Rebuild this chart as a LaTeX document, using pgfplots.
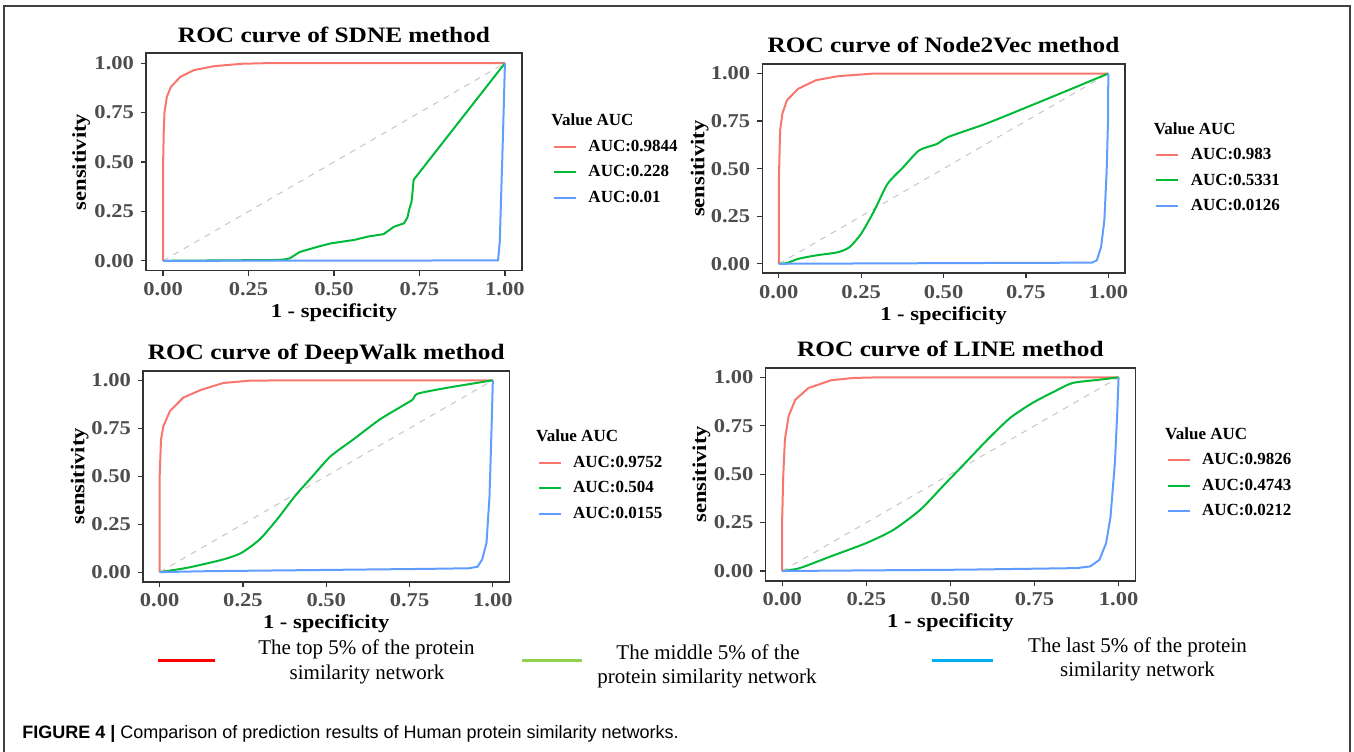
\documentclass[border=0pt]{standalone}
\usepackage{fontspec}
\setmainfont{Liberation Serif}
\newfontfamily\pf[FakeStretch=1.15]{Liberation Serif}
\newfontfamily\capfont{Liberation Sans}
\usepackage{pgfplots}
\pgfplotsset{compat=1.18}

\definecolor{gRed}{HTML}{F8766D}
\definecolor{gGreen}{HTML}{00BA38}
\definecolor{gBlue}{HTML}{619CFF}
\definecolor{tickgray}{HTML}{4D4D4D}
\definecolor{boxgray}{HTML}{333333}
\definecolor{legRed}{HTML}{FF0000}
\definecolor{legGreen}{HTML}{92D050}
\definecolor{legBlue}{HTML}{00B0F0}

\newcommand\lt[1]{\hspace*{5.75pt}#1}
\newcommand\lhead{\hspace*{-12.75pt}Value AUC}

\pgfplotsset{
  rocpanel/.style={
    scale only axis,
    xmin=-0.05, xmax=1.05, ymin=-0.05, ymax=1.05,
    xtick={0,0.25,0.5,0.75,1}, ytick={0,0.25,0.5,0.75,1},
    xticklabels={0.00,0.25,0.50,0.75,1.00},
    yticklabels={0.00,0.25,0.50,0.75,1.00},
    tick pos=left, tick align=outside, major tick length=2.5pt,
    tick style={boxgray, line width=0.6pt},
    axis line style={boxgray, line width=0.8pt},
    ticklabel style={font=\pf\bfseries\fontsize{9.8}{10}\selectfont, text=tickgray},
    every axis title shift=0pt,
    title style={font=\pf\bfseries\fontsize{11}{12}\selectfont, at={(0.5,1)}, anchor=base, yshift=5.5pt},
    xlabel={1 - specificity}, ylabel={sensitivity},
    label style={font=\pf\bfseries\fontsize{9.8}{11}\selectfont},
    xlabel style={at={(axis description cs:0.5,0)}, anchor=base, yshift=-23.5pt},
    ylabel style={at={(axis description cs:-0.16,0.5)}, anchor=base},
    legend style={anchor=north west, draw=none, fill=none, inner sep=0pt, outer sep=0pt,
      font=\bfseries\fontsize{8.5}{9}\selectfont, row sep=4.95pt,
      nodes={inner sep=0pt, text height=6.2pt, text depth=1.6pt}},
    legend cell align=left,
    legend image code/.code={\draw[#1] (0pt,0pt) -- (11pt,0pt);},
    every axis plot/.append style={line width=1pt, no marks, line join=round},
  },
  diag/.style={gray!45, line width=0.5pt, dash pattern=on 3pt off 3pt, forget plot},
}

\begin{document}
\begin{tikzpicture}[x=0.5pt, y=0.5pt]
\useasboundingbox (0,0) rectangle (1354,751);
\draw[black!75, line width=0.75pt] (4,-2) -- (4,745) -- (1350,745) -- (1350,-2);

\coordinate (A1) at (146,697.7);
\coordinate (A2) at (762.3,687);
\coordinate (A3) at (143,380.3);
\coordinate (A4) at (765.4,383.3);

% SDNE
\begin{axis}[rocpanel, at={(A1)}, anchor=north west, width=188pt, height=108.7pt,
  title={ROC curve of SDNE method}, legend style={at={(1.0824,0.7227)}}]
\addplot[diag] coordinates {(0,0) (1,1)};
\addlegendimage{empty legend}\addlegendentry{\lhead}
\addplot[gRed] coordinates {(0,0) (0,0.49) (0.002,0.66) (0.004,0.75) (0.011,0.83) (0.023,0.88) (0.05,0.93) (0.09,0.965) (0.15,0.985) (0.23,0.997) (0.3,1) (1,1)};
\addlegendentry{\lt{AUC:0.9844}}
\addplot[gGreen] coordinates {(0,0) (0.32,0.004) (0.35,0.006) (0.37,0.012) (0.40,0.045) (0.45,0.07) (0.49,0.088) (0.56,0.106) (0.60,0.123) (0.645,0.135) (0.675,0.172) (0.705,0.19) (0.715,0.22) (0.72,0.26) (0.727,0.30) (0.733,0.41) (1,1)};
\addlegendentry{\lt{AUC:0.228}}
\addplot[gBlue] coordinates {(0,0) (0.98,0.002) (0.985,0.1) (0.992,0.5) (0.997,0.8) (1,1)};
\addlegendentry{\lt{AUC:0.01}}
\end{axis}

% Node2Vec
\begin{axis}[rocpanel, at={(A2)}, anchor=north west, width=181.25pt, height=104.65pt,
  title={ROC curve of Node2Vec method}, legend style={at={(1.084,0.7248)}}]
\addplot[diag] coordinates {(0,0) (1,1)};
\addlegendimage{empty legend}\addlegendentry{\lhead}
\addplot[gRed] coordinates {(0,0) (0,0.42) (0.004,0.70) (0.011,0.79) (0.025,0.86) (0.059,0.92) (0.113,0.965) (0.18,0.986) (0.29,1) (1,1)};
\addlegendentry{\lt{AUC:0.983}}
\addplot[gGreen, smooth, tension=0.4] coordinates {(0,0) (0.025,0.004) (0.059,0.026) (0.113,0.044) (0.18,0.061) (0.215,0.088) (0.25,0.158) (0.29,0.28) (0.33,0.42) (0.379,0.51) (0.426,0.596) (0.48,0.63) (0.515,0.667) (0.63,0.737) (0.767,0.833) (0.903,0.93) (1,1)};
\addlegendentry{\lt{AUC:0.5331}}
\addplot[gBlue] coordinates {(0,0) (0.6,0.004) (0.951,0.006) (0.965,0.018) (0.978,0.088) (0.988,0.23) (0.995,0.49) (0.999,0.75) (1,1)};
\addlegendentry{\lt{AUC:0.0126}}
\end{axis}

% DeepWalk
\begin{axis}[rocpanel, at={(A3)}, anchor=north west, width=183.25pt, height=105.5pt,
  title={ROC curve of DeepWalk method}, legend style={at={(1.0765,0.7218)}}]
\addplot[diag] coordinates {(0,0) (1,1)};
\addlegendimage{empty legend}\addlegendentry{\lhead}
\addplot[gRed] coordinates {(0,0) (0,0.5) (0.004,0.69) (0.011,0.76) (0.031,0.84) (0.071,0.91) (0.124,0.95) (0.191,0.986) (0.27,0.998) (0.39,1) (1,1)};
\addlegendentry{\lt{AUC:0.9752}}
\addplot[gGreen, smooth, tension=0.4] coordinates {(0,0) (0.084,0.023) (0.191,0.066) (0.245,0.10) (0.30,0.17) (0.352,0.274) (0.406,0.396) (0.459,0.50) (0.513,0.604) (0.58,0.69) (0.66,0.795) (0.727,0.865) (0.76,0.90) (0.774,0.93) (0.86,0.96) (1,1)};
\addlegendentry{\lt{AUC:0.504}}
\addplot[gBlue] coordinates {(0,0) (0.15,0.005) (0.807,0.017) (0.928,0.02) (0.954,0.028) (0.968,0.066) (0.981,0.153) (0.99,0.396) (0.996,0.743) (1,1)};
\addlegendentry{\lt{AUC:0.0155}}
\end{axis}

% LINE
\begin{axis}[rocpanel, at={(A4)}, anchor=north west, width=185pt, height=106.5pt,
  title={ROC curve of LINE method}, legend style={at={(1.0843,0.7216)}}]
\addplot[diag] coordinates {(0,0) (1,1)};
\addlegendimage{empty legend}\addlegendentry{\lhead}
\addplot[gRed] coordinates {(0,0) (0,0.28) (0.003,0.49) (0.008,0.68) (0.019,0.80) (0.039,0.885) (0.078,0.945) (0.145,0.985) (0.211,0.997) (0.28,1) (1,1)};
\addlegendentry{\lt{AUC:0.9826}}
\addplot[gGreen, smooth, tension=0.4] coordinates {(0,0) (0.052,0.015) (0.145,0.076) (0.251,0.145) (0.331,0.213) (0.411,0.317) (0.477,0.437) (0.544,0.558) (0.61,0.678) (0.677,0.79) (0.743,0.867) (0.81,0.928) (0.863,0.971) (0.943,0.988) (1,1)};
\addlegendentry{\lt{AUC:0.4743}}
\addplot[gBlue] coordinates {(0,0) (0.544,0.007) (0.876,0.015) (0.916,0.024) (0.943,0.058) (0.963,0.145) (0.976,0.28) (0.989,0.558) (0.996,0.816) (1,1)};
\addlegendentry{\lt{AUC:0.0212}}
\end{axis}

% shared legend below the panels
\begin{scope}[every node/.style={font=\fontsize{10.5}{12}\selectfont, anchor=base, inner sep=0pt}]
\draw[legRed, line width=1.5pt] (158,91) -- (215,91);
\node at (366.5,97) {The top 5\% of the protein};
\node at (367,72) {similarity network};
\draw[legGreen, line width=1.5pt] (522,91) -- (582,91);
\node at (708,92) {The middle 5\% of the};
\node at (707,68) {protein similarity network};
\draw[legBlue, line width=1.5pt] (932,91) -- (993,91);
\node at (1137.5,99) {The last 5\% of the protein};
\node at (1137.5,75) {similarity network};
\end{scope}

\node[anchor=base west, inner sep=0pt, font=\capfont\fontsize{9}{11}\selectfont] at (22,13)
  {\textbf{FIGURE 4 |} Comparison of prediction results of Human protein similarity networks.};
\end{tikzpicture}
\end{document}
